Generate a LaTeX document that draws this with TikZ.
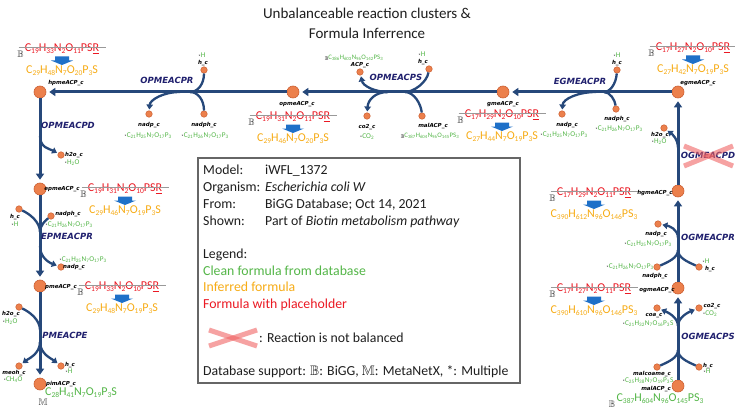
\documentclass[tikz,border=0pt]{standalone}
\usepackage{amssymb}
\usepackage{fontspec}
\setmainfont{Carlito}
\newfontfamily\dvs{DejaVu Sans}
\usetikzlibrary{arrows.meta}
\definecolor{fred}{RGB}{235,25,35}
\definecolor{forange}{RGB}{247,172,22}
\definecolor{fgreen}{RGB}{84,182,72}
\definecolor{metfill}{RGB}{236,128,76}
\definecolor{metdraw}{RGB}{205,95,50}
\definecolor{flow}{RGB}{38,72,122}
\definecolor{rxncol}{RGB}{32,32,110}
\definecolor{barrow}{RGB}{30,112,200}
\definecolor{xcol}{RGB}{240,100,100}
\definecolor{legtext}{RGB}{30,30,30}
\newcommand{\sbs}[1]{\textsubscript{#1}}
\newcommand{\bigsub}[1]{\raisebox{-1.8pt}{\fontsize{7.5}{7.5}\selectfont #1}}
\newcommand{\mstar}{{\color{black}\fontsize{5}{5}\selectfont\raisebox{-1.2pt}{*}}}
\newcommand{\bmk}{{\color{black}\fontsize{5.5}{6}\selectfont\raisebox{-1.2pt}{$\mathbb{B}$}}}
\newcommand{\dbB}{$\mathbb{B}$}
\newcommand{\dbM}{$\mathbb{M}$}
\tikzset{
  bigmet/.style={circle, fill=metfill, draw=metdraw, line width=0.6pt, minimum size=12pt, inner sep=0pt},
  smet/.style={circle, fill=metfill, draw=metdraw, line width=0.5pt, minimum size=6.5pt, inner sep=0pt},
  mlabel/.style={font={\dvs\bfseries\itshape\fontsize{5.5}{6}\selectfont}, inner sep=0pt, anchor=mid},
  rlabel/.style={font={\dvs\bfseries\itshape\fontsize{8.5}{9}\selectfont}, text=rxncol, inner sep=0pt, anchor=mid},
  redf/.style={font={\fontsize{12}{14}\selectfont\let\sbs\bigsub}, text=fred, inner sep=0pt, anchor=mid},
  oranf/.style={font={\fontsize{12}{14}\selectfont\let\sbs\bigsub}, text=forange, inner sep=0pt, anchor=mid},
  bigf/.style={font={\fontsize{12}{14}\selectfont\let\sbs\bigsub}, text=fgreen, inner sep=0pt, anchor=mid},
  sform/.style={font={\fontsize{7.3}{8}\selectfont}, text=fgreen, inner sep=0pt, anchor=mid},
  acpform/.style={font={\fontsize{6.8}{7}\selectfont}, text=fgreen, inner sep=0pt, anchor=mid},
  bmark/.style={font={\fontsize{9.5}{10}\selectfont}, text=black!80, inner sep=0pt},
  title/.style={font={\fontsize{15}{18}\selectfont}, text=legtext, inner sep=0pt, anchor=base},
  legt/.style={font={\fontsize{13.8}{16}\selectfont}, text=legtext, inner sep=0pt, anchor=base west},
  mainflow/.style={draw=flow, line width=3pt, -{Triangle[width=8pt,length=6pt]}, shorten >=3pt},
  branch/.style={draw=flow, line width=2.3pt},
  prod/.style={draw=flow, line width=2.3pt, -{Triangle[width=6.5pt,length=5pt]}, shorten >=1pt},
  strike/.style={draw=black!40, line width=0.8pt},
  xmark/.style={draw=xcol, line width=5pt, draw opacity=0.6},
  legbox/.style={draw=black!60, line width=1.2pt},
  blockarrow/.pic={\fill[barrow] (-7,-4) -- (7,-4) -- (7,0) -- (11,0) -- (0,4.5) -- (-11,0) -- (-7,0) -- cycle;}
}
\newcommand{\fblock}[5]{%
  \node[redf] (#1r) at (#2,#3) {#4};
  \draw[strike] ([xshift=-6pt,yshift=1.5pt]#1r.mid west) -- ([xshift=7pt,yshift=1.5pt]#1r.mid east);
  \node[bmark] (#1b) at ([xshift=-4pt,yshift=-5.5pt]#1r.mid west) {\dbB};
  \pic at (#2,#3+11.5) {blockarrow};
  \node[oranf] (#1o) at (#2,#3+22.5) {#5};
}
\begin{document}
\begin{tikzpicture}[x=1pt,y=-1pt]
\useasboundingbox (0,0) rectangle (735,409);
\fill[white] (0,0) rectangle (735,409);

% title
\node[title] (t1) at (367,18.5) {Unbalanceable reaction clusters \&};
\node[title] (t2) at (367,38.5) {Formula Inferrence};

% main metabolites
\node[bigmet] (hpme) at (40,92) {};
\node[bigmet] (opme) at (293,92) {};
\node[bigmet] (gme) at (503,92) {};
\node[bigmet] (egme) at (678,92) {};
\node[bigmet] (hgme) at (678,191) {};
\node[bigmet] (ogme) at (678,288) {};
\node[bigmet] (mal) at (678,386) {};
\node[bigmet] (epme) at (40,189) {};
\node[bigmet] (pme) at (40,286) {};
\node[bigmet] (pim) at (40,384) {};

\node[mlabel] (lhpme) at (66,82) {hpmeACP\_c};
\node[mlabel] (lopme) at (297,103) {opmeACP\_c};
\node[mlabel] (lgme) at (503,103) {gmeACP\_c};
\node[mlabel] (legme) at (698,82) {egmeACP\_c};
\node[mlabel] (lhgme) at (655,192) {hgmeACP\_c};
\node[mlabel] (logme) at (657,289) {ogmeACP\_c};
\node[mlabel] (lmal) at (656,388) {malACP\_c};
\node[mlabel] (lepme) at (62,188) {epmeACP\_c};
\node[mlabel] (lpme) at (61,286) {pmeACP\_c};
\node[mlabel] (lpim) at (61,383) {pimACP\_c};

% main flow
\draw[mainflow] (egme) -- (gme);
\draw[mainflow] (gme) -- (opme);
\draw[mainflow] (opme) -- (hpme);
\draw[mainflow] (hpme) -- (epme);
\draw[mainflow] (epme) -- (pme);
\draw[mainflow] (pme) -- (pim);
\draw[mainflow] (mal) -- (ogme);
\draw[mainflow] (ogme) -- (hgme);
\draw[mainflow] (hgme) -- (egme);

% formula blocks
\fblock{hpme}{62}{49}{C\sbs{19}H\sbs{33}N\sbs{2}O\sbs{11}PS\underline{R}}{C\sbs{29}H\sbs{48}N\sbs{7}O\sbs{20}P\sbs{3}S}
\fblock{opme}{293}{117}{C\sbs{19}H\sbs{31}N\sbs{2}O\sbs{11}PS\underline{R}}{C\sbs{29}H\sbs{46}N\sbs{7}O\sbs{20}P\sbs{3}S}
\fblock{gme}{502}{115}{C\sbs{17}H\sbs{29}N\sbs{2}O\sbs{10}PS\underline{R}}{C\sbs{27}H\sbs{44}N\sbs{7}O\sbs{19}P\sbs{3}S}
\fblock{egme}{693}{48}{C\sbs{17}H\sbs{27}N\sbs{2}O\sbs{10}PS\underline{R}}{C\sbs{27}H\sbs{42}N\sbs{7}O\sbs{19}P\sbs{3}S}
\fblock{hgme}{594}{193}{C\sbs{17}H\sbs{29}N\sbs{2}O\sbs{11}PS\underline{R}}{C\sbs{390}H\sbs{612}N\sbs{96}O\sbs{146}PS\sbs{3}}
\fblock{ogme}{594}{289}{C\sbs{17}H\sbs{27}N\sbs{2}O\sbs{11}PS\underline{R}}{C\sbs{390}H\sbs{610}N\sbs{96}O\sbs{146}PS\sbs{3}}
\fblock{epme}{125}{189}{C\sbs{19}H\sbs{31}N\sbs{2}O\sbs{10}PS\underline{R}}{C\sbs{29}H\sbs{46}N\sbs{7}O\sbs{19}P\sbs{3}S}
\fblock{pme}{122}{287}{C\sbs{19}H\sbs{33}N\sbs{2}O\sbs{10}PS\underline{R}}{C\sbs{29}H\sbs{48}N\sbs{7}O\sbs{19}P\sbs{3}S}

\node[bigf] (fpim) at (81,393) {C\sbs{28}H\sbs{41}N\sbs{7}O\sbs{19}P\sbs{3}S};
\node[bmark] (mpim) at (43,402) {\dbM};
\node[bigf] (fmal) at (660,399) {C\sbs{387}H\sbs{604}N\sbs{96}O\sbs{145}PS\sbs{3}};
\node[bmark] (bmal) at (612,404) {\dbB};

% R1 OPMEACPR
\node[smet] (r1h) at (204,70) {};
\node[mlabel] (l1h) at (203,62) {h\_c};
\node[sform] (f1h) at (202,55) {\mstar H};
\node[smet] (r1np) at (149,114) {};
\node[mlabel] (l1np) at (149,124) {nadp\_c};
\node[sform] (f1np) at (148,135) {\mstar C\sbs{21}H\sbs{25}N\sbs{7}O\sbs{17}P\sbs{3}};
\node[smet] (r1nph) at (204,114) {};
\node[mlabel] (l1nph) at (204,124) {nadph\_c};
\node[sform] (f1nph) at (205,135) {\mstar C\sbs{21}H\sbs{26}N\sbs{7}O\sbs{17}P\sbs{3}};
\node[rlabel] (n1) at (167,81) {OPMEACPR};
\coordinate (r1in) at (190,92);
\coordinate (r1out) at (180,92);
\draw[branch] (r1h) .. controls (204,84) and (198,92) .. (r1in);
\draw[branch] (r1nph) .. controls (204,100) and (198,92) .. (r1in);
\draw[prod] (r1out) .. controls (163,92) and (150,100) .. (r1np);

% R2 OPMEACPS
\node[smet] (r2acp) at (360,72) {};
\node[mlabel] (l2acp) at (360,64) {ACP\_c};
\node[acpform] (f2acp) at (354,57) {\bmk C\sbs{386}H\sbs{603}N\sbs{96}O\sbs{142}PS\sbs{3}};
\node[smet] (r2h) at (429,69) {};
\node[mlabel] (l2h) at (423,61) {h\_c};
\node[sform] (f2h) at (422,54) {\mstar H};
\node[smet] (r2co2) at (367,116) {};
\node[mlabel] (l2co2) at (367,126) {co2\_c};
\node[sform] (f2co2) at (367,136) {\mstar CO\sbs{2}};
\node[smet] (r2mal) at (422,116) {};
\node[mlabel] (l2mal) at (433,125) {malACP\_c};
\node[acpform] (f2mal) at (430,135) {\bmk C\sbs{387}H\sbs{604}N\sbs{96}O\sbs{145}PS\sbs{3}};
\node[rlabel] (n2) at (396,78) {OPMEACPS};
\coordinate (r2in) at (405,92);
\coordinate (r2out) at (388,92);
\draw[branch] (r2h) .. controls (427,82) and (414,92) .. (r2in);
\draw[branch] (r2mal) .. controls (421,104) and (414,92) .. (r2in);
\draw[prod] (r2out) .. controls (375,92) and (363,86) .. (r2acp);
\draw[prod] (r2out) .. controls (375,92) and (368,100) .. (r2co2);

% R3 EGMEACPR
\node[smet] (r3h) at (617,70) {};
\node[mlabel] (l3h) at (617,62) {h\_c};
\node[sform] (f3h) at (617,55) {\mstar H};
\node[smet] (r3nph) at (616,109) {};
\node[mlabel] (l3nph) at (617,118) {nadph\_c};
\node[sform] (f3nph) at (619,128) {\mstar C\sbs{21}H\sbs{26}N\sbs{7}O\sbs{17}P\sbs{3}};
\node[smet] (r3np) at (562,114) {};
\node[mlabel] (l3np) at (567,124) {nadp\_c};
\node[sform] (f3np) at (564,134) {\mstar C\sbs{21}H\sbs{25}N\sbs{7}O\sbs{17}P\sbs{3}};
\node[rlabel] (n3) at (580,82) {EGMEACPR};
\coordinate (r3in) at (604,92);
\coordinate (r3out) at (596,92);
\draw[branch] (r3h) .. controls (616,84) and (610,92) .. (r3in);
\draw[branch] (r3nph) .. controls (615,100) and (610,92) .. (r3in);
\draw[prod] (r3out) .. controls (578,92) and (563,99) .. (r3np);

% R4 OPMEACPD
\node[smet] (r4w) at (61,155) {};
\node[mlabel] (l4w) at (74,154) {h2o\_c};
\node[sform] (f4w) at (72,162) {\mstar H\sbs{2}O};
\node[rlabel] (n4) at (68,126) {OPMEACPD};
\coordinate (r4out) at (40,136);
\draw[prod] (r4out) .. controls (40,148) and (50,149) .. (r4w);

% R5 EPMEACPR
\node[smet] (r5h) at (19,209) {};
\node[mlabel] (l5h) at (15,216) {h\_c};
\node[sform] (f5h) at (15,224) {\mstar H};
\node[smet] (r5nph) at (51,216) {};
\node[mlabel] (l5nph) at (68,213) {nadph\_c};
\node[sform] (f5nph) at (69,224) {\mstar C\sbs{21}H\sbs{26}N\sbs{7}O\sbs{17}P\sbs{3}};
\node[smet] (r5np) at (61,267) {};
\node[mlabel] (l5np) at (74,266) {nadp\_c};
\node[sform] (f5np) at (83,259) {\mstar C\sbs{21}H\sbs{25}N\sbs{7}O\sbs{17}P\sbs{3}};
\node[rlabel] (n5) at (67,237) {EPMEACPR};
\coordinate (r5in) at (40,232);
\coordinate (r5out) at (40,246);
\draw[branch] (r5h) .. controls (30,214) and (40,222) .. (r5in);
\draw[branch] (r5nph) .. controls (46,220) and (40,225) .. (r5in);
\draw[prod] (r5out) .. controls (40,258) and (50,263) .. (r5np);

% R6 PMEACPE
\node[smet] (r6w) at (19,307) {};
\node[mlabel] (l6w) at (11,313) {h2o\_c};
\node[sform] (f6w) at (10,321) {\mstar H\sbs{2}O};
\node[smet] (r6meoh) at (19,366) {};
\node[mlabel] (l6meoh) at (14,372) {meoh\_c};
\node[sform] (f6meoh) at (13,379) {\mstar CH\sbs{4}O};
\node[smet] (r6h) at (61,366) {};
\node[mlabel] (l6h) at (70,364) {h\_c};
\node[sform] (f6h) at (69,371) {\mstar H};
\node[rlabel] (n6) at (65,336) {PMEACPE};
\coordinate (r6in) at (40,330);
\coordinate (r6out) at (40,342);
\draw[branch] (r6w) .. controls (30,312) and (40,320) .. (r6in);
\draw[prod] (r6out) .. controls (40,354) and (28,359) .. (r6meoh);
\draw[prod] (r6out) .. controls (40,354) and (52,359) .. (r6h);

% R7 OGMEACPD
\node[smet] (r7w) at (664,128) {};
\node[mlabel] (l7w) at (660,134) {h2o\_c};
\node[sform] (f7w) at (659,141) {\mstar H\sbs{2}O};
\node[rlabel] (n7) at (708,156) {OGMEACPD};
\coordinate (r7out) at (678,148);
\draw[prod] (r7out) .. controls (678,139) and (672,134) .. (r7w);
\draw[xmark] (684,146) -- (733,166);
\draw[xmark] (684,166) -- (733,146);

% R8 OGMEACPR
\node[smet] (r8np) at (658,224) {};
\node[mlabel] (l8np) at (656,233) {nadp\_c};
\node[sform] (f8np) at (648,243) {\mstar C\sbs{21}H\sbs{25}N\sbs{7}O\sbs{17}P\sbs{3}};
\node[smet] (r8nph) at (657,267) {};
\node[mlabel] (l8nph) at (655,275) {nadph\_c};
\node[sform] (f8nph) at (630,266) {\mstar C\sbs{21}H\sbs{26}N\sbs{7}O\sbs{17}P\sbs{3}};
\node[smet] (r8h) at (699,267) {};
\node[mlabel] (l8h) at (710,268) {h\_c};
\node[sform] (f8h) at (706,261) {\mstar H};
\node[rlabel] (n8) at (708,238) {OGMEACPR};
\coordinate (r8in) at (678,250);
\coordinate (r8out) at (678,238);
\draw[branch] (r8nph) .. controls (668,262) and (678,258) .. (r8in);
\draw[branch] (r8h) .. controls (688,262) and (678,258) .. (r8in);
\draw[prod] (r8out) .. controls (678,229) and (669,226) .. (r8np);

% R9 OGMEACPS
\node[smet] (r9coa) at (657,308) {};
\node[mlabel] (l9coa) at (654,314) {coa\_c};
\node[sform] (f9coa) at (648,323) {\mstar C\sbs{21}H\sbs{32}N\sbs{7}O\sbs{16}P\sbs{3}S};
\node[smet] (r9co2) at (699,308) {};
\node[mlabel] (l9co2) at (712,305) {co2\_c};
\node[sform] (f9co2) at (710,313) {\mstar CO\sbs{2}};
\node[smet] (r9mcm) at (657,367) {};
\node[mlabel] (l9mcm) at (652,373) {malcoame\_c};
\node[sform] (f9mcm) at (648,380) {\mstar C\sbs{25}H\sbs{38}N\sbs{7}O\sbs{19}P\sbs{3}S};
\node[smet] (r9h) at (699,367) {};
\node[mlabel] (l9h) at (708,365) {h\_c};
\node[sform] (f9h) at (707,371) {\mstar H};
\node[rlabel] (n9) at (708,337) {OGMEACPS};
\coordinate (r9in) at (678,350);
\coordinate (r9out) at (678,326);
\draw[branch] (r9mcm) .. controls (668,362) and (678,358) .. (r9in);
\draw[branch] (r9h) .. controls (688,362) and (678,358) .. (r9in);
\draw[prod] (r9out) .. controls (678,317) and (667,312) .. (r9coa);
\draw[prod] (r9out) .. controls (678,317) and (689,312) .. (r9co2);

% legend box
\draw[legbox] (198,158) rectangle (520,383);
\node[legt] (lm1) at (203,174) {Model:};
\node[legt] (lm2) at (265,174) {iWFL\_1372};
\node[legt] (lo1) at (203,191) {Organism:};
\node[legt] (lo2) at (265,191) {\textit{Escherichia coli W}};
\node[legt] (lf1) at (203,208) {From:};
\node[legt] (lf2) at (265,208) {BiGG Database; Oct 14, 2021};
\node[legt] (ls1) at (203,225) {Shown:};
\node[legt] (ls2) at (265,225) {Part of \textit{Biotin metabolism pathway}};
\node[legt] (ll) at (203,258) {Legend:};
\node[legt, text=fgreen] (lc) at (203,275) {Clean formula from database};
\node[legt, text=forange] (li) at (203,291) {Inferred formula};
\node[legt, text=fred] (lp) at (203,308) {Formula with placeholder};
\draw[xmark] (209,330) -- (257,346);
\draw[xmark] (209,346) -- (257,330);
\node[legt] (lx) at (259,342) {: Reaction is not balanced};
\node[legt] (ld) at (203,375) {Database support: \dbB: BiGG, \dbM: MetaNetX, *: Multiple};
\end{tikzpicture}
\end{document}
